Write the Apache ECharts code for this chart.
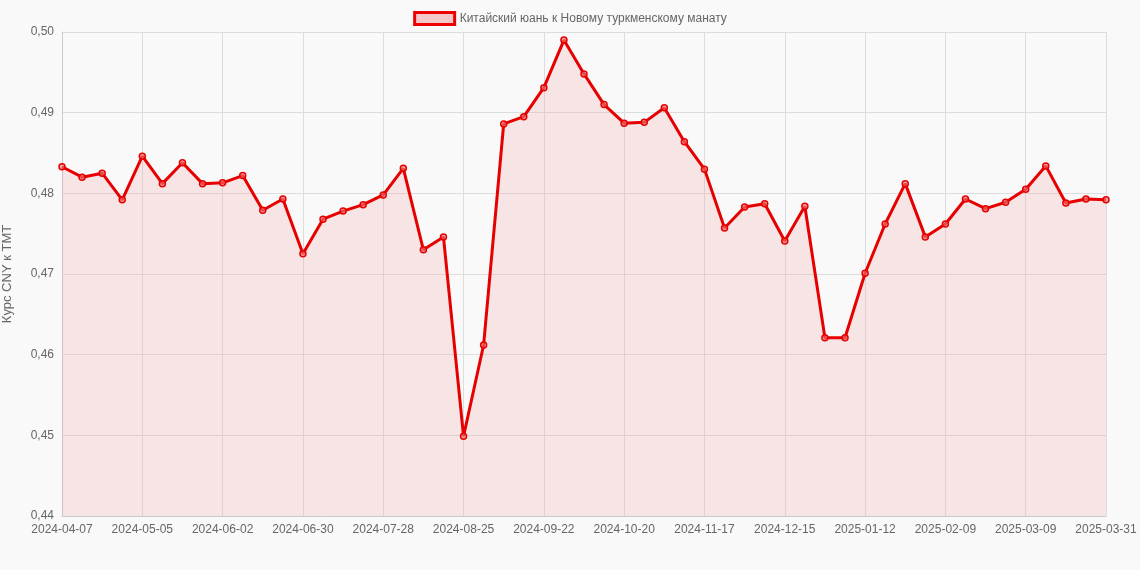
<!DOCTYPE html>
<html><head><meta charset="utf-8">
<script src="https://cdn.jsdelivr.net/npm/echarts@6/dist/echarts.min.js"></script>
<style>html,body{margin:0;padding:0;background:#f9f9f9}#c{width:1140px;height:570px}</style>
</head><body><div id="c"></div>
<script>
var categories = ["2024-04-07","2024-04-14","2024-04-21","2024-04-28","2024-05-05","2024-05-12","2024-05-19","2024-05-26","2024-06-02","2024-06-09","2024-06-16","2024-06-23","2024-06-30","2024-07-07","2024-07-14","2024-07-21","2024-07-28","2024-08-04","2024-08-11","2024-08-18","2024-08-25","2024-09-01","2024-09-08","2024-09-15","2024-09-22","2024-09-29","2024-10-06","2024-10-13","2024-10-20","2024-10-27","2024-11-03","2024-11-10","2024-11-17","2024-11-24","2024-12-01","2024-12-08","2024-12-15","2024-12-22","2024-12-29","2025-01-05","2025-01-12","2025-01-19","2025-01-26","2025-02-02","2025-02-09","2025-02-16","2025-02-23","2025-03-02","2025-03-09","2025-03-16","2025-03-23","2025-03-30","2025-03-31"];
var values = [0.4833,0.4820,0.4825,0.4792,0.4846,0.4812,0.4838,0.4812,0.4813,0.4822,0.4779,0.4793,0.4725,0.4768,0.4778,0.4786,0.4798,0.4831,0.4730,0.4746,0.4499,0.4612,0.4886,0.4895,0.4931,0.4990,0.4948,0.4910,0.4887,0.4888,0.4906,0.4864,0.4830,0.4757,0.4783,0.4787,0.4741,0.4784,0.4621,0.4621,0.4701,0.4762,0.4812,0.4746,0.4762,0.4793,0.4781,0.4789,0.4805,0.4834,0.4788,0.4793,0.4792];
var seriesName = "Китайский юань к Новому туркменскому манату";
var labelIdx = [0,4,8,12,16,20,24,28,32,36,40,44,48,52];
var ch = echarts.init(document.getElementById('c'));
ch.setOption({
  backgroundColor:'#f9f9f9',
  textStyle:{fontFamily:'Arial, Liberation Sans, sans-serif'},
  legend:{top:6,left:'center',itemWidth:40,itemHeight:12,textStyle:{color:'#666',fontSize:12},
    data:[{name:seriesName,icon:'rect',itemStyle:{color:'rgba(240,180,180,0.7)',borderColor:'#e00',borderWidth:3}}]},
  grid:{left:62,right:34,top:32,bottom:54,containLabel:false,outerBoundsMode:'none'},
  xAxis:{type:'category',data:categories,boundaryGap:false,
    axisLine:{lineStyle:{color:'#ccc'}},axisTick:{show:false},
    axisLabel:{color:'#666',fontSize:12,interval:function(i){return labelIdx.indexOf(i)>=0;},
      alignMinLabel:'center',alignMaxLabel:'center'},
    splitLine:{show:true,interval:function(i){return labelIdx.indexOf(i)>=0;},lineStyle:{color:'#ddd'}}},
  yAxis:{type:'value',min:0.44,max:0.50,interval:0.01,name:'Курс CNY к TMT',nameLocation:'middle',nameGap:48,
    nameTextStyle:{color:'#666',fontSize:13},
    axisLine:{show:true,lineStyle:{color:'#ccc'}},
    axisLabel:{color:'#666',fontSize:12,formatter:function(v){return v.toFixed(2).replace('.',',');}},
    splitLine:{lineStyle:{color:'#ddd'}}},
  series:[{name:seriesName,type:'line',data:values,symbol:'circle',symbolSize:6,
    lineStyle:{color:'#e60000',width:3},
    itemStyle:{color:'rgba(240,120,120,0.6)',borderColor:'#e60000',borderWidth:1.5},
    areaStyle:{color:'rgba(240,150,150,0.3)'}}]
});
</script></body></html>
